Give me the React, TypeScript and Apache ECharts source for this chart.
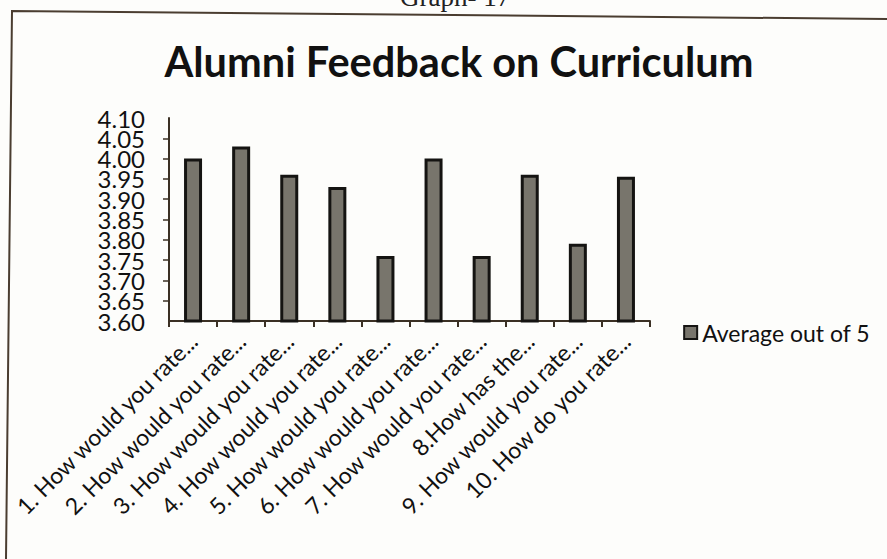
import React, { useEffect, useRef } from "react";
import * as echarts from "echarts";

const categories = [
  "1. How would you rate...",
  "2. How would you rate...",
  "3. How would you rate...",
  "4. How would you rate...",
  "5. How would you rate...",
  "6. How would you rate...",
  "7. How would you rate...",
  "8.How has the...",
  "9. How would you rate...",
  "10. How do you rate...",
];
const averageOutOf5 = [4.0, 4.03, 3.96, 3.93, 3.76, 4.0, 3.76, 3.96, 3.79, 3.955];
const yMin = 3.6;
const yMax = 4.1;
const yStep = 0.05;
const seriesName = "Average out of 5";
const titleText = "Alumni Feedback on Curriculum";
const captionText = "Graph- 17";

export default function App() {
  const ref = useRef<HTMLDivElement>(null);
  useEffect(() => {
    if (!ref.current) return;
    const chart = echarts.init(ref.current, null, { renderer: "svg" });
    const axisColor = "#3b3024";
    const yLabelStyle = {
      margin: 24,
      color: "#111",
      fontFamily: "Lato",
      fontSize: 24,
      formatter: (v: number) => v.toFixed(2),
    };
    chart.setOption({
      animation: false,
      backgroundColor: "#fdfdfb",
      title: {
        text: titleText,
        left: 454,
        top: 35,
        textAlign: "center",
        textStyle: {
          fontFamily: "Lato",
          fontWeight: "bold",
          fontSize: 41.5,
          color: "#111",
        },
      },
      legend: {
        right: 12,
        top: 316,
        itemWidth: 13,
        itemHeight: 13,
        itemGap: 4,
        textStyle: { fontFamily: "Lato", fontSize: 23, color: "#111" },
        data: [{ name: seriesName, icon: "rect" }],
      },
      grid: { left: 169, right: 237, top: 118, bottom: 238, containLabel: false },
      xAxis: {
        type: "category",
        data: categories,
        boundaryGap: true,
        axisLine: { lineStyle: { color: axisColor, width: 2 } },
        axisTick: { show: true, length: 6, inside: false, alignWithLabel: false, lineStyle: { color: axisColor, width: 2 } },
        axisLabel: {
          rotate: 45,
          interval: 0,
          margin: 16,
          fontFamily: "Lato",
          fontSize: 23,
          color: "#111",
        },
      },
      yAxis: [
        {
          type: "value",
          position: "left",
          min: yMin,
          max: yMax,
          interval: yStep,
          splitLine: { show: false },
          axisLine: { show: true, lineStyle: { color: axisColor, width: 2 } },
          axisTick: { show: true, length: 6, lineStyle: { color: axisColor, width: 1.5 } },
          axisLabel: { ...yLabelStyle, showMinLabel: false, showMaxLabel: false, hideOverlap: false },
        },
        {
          type: "value",
          position: "left",
          offset: 0,
          min: yMin,
          max: yMax,
          interval: yMax - yMin,
          splitLine: { show: false },
          axisLine: { show: false },
          axisTick: { show: false },
          axisLabel: { ...yLabelStyle, showMinLabel: true, showMaxLabel: true, hideOverlap: false },
        },
      ],
      series: [
        {
          name: seriesName,
          type: "bar",
          yAxisIndex: 0,
          data: averageOutOf5,
          barWidth: 18,
          itemStyle: {
            color: "#78756c",
            borderColor: "#151412",
            borderWidth: 3,
          },
        },
      ],
      graphic: [
        {
          type: "polyline",
          shape: { points: [[6, 559], [12, 11], [887, 19]] },
          style: { stroke: "#4a3d30", lineWidth: 2, fill: "none" },
          silent: true,
        },
        {
          type: "text",
          left: 400,
          top: -17,
          style: {
            text: captionText,
            font: "27px 'Liberation Serif', serif",
            fill: "#222",
          },
        },
      ],
    });
    return () => chart.dispose();
  }, []);
  return <div ref={ref} style={{ width: 887, height: 559, position: "absolute", left: 0, top: 0 }} />;
}
